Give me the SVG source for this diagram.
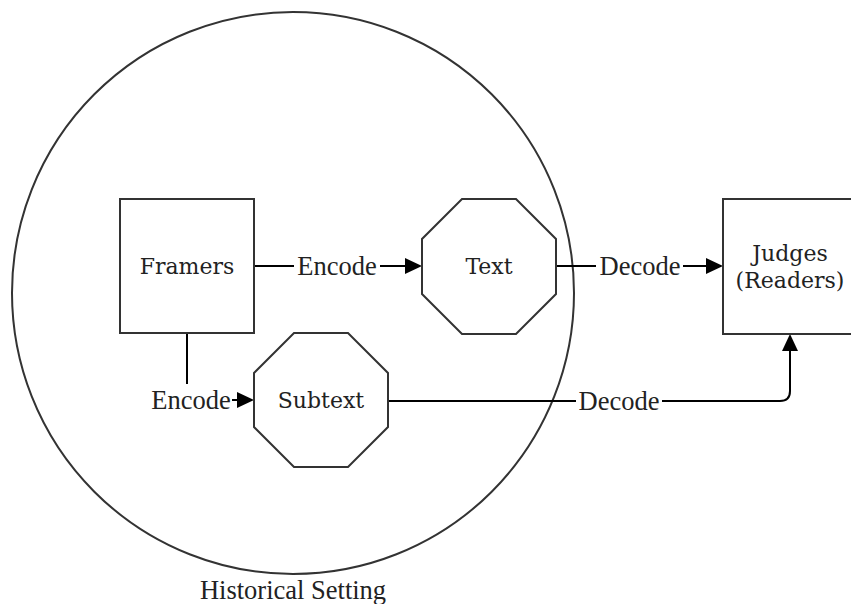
<svg xmlns="http://www.w3.org/2000/svg" width="851" height="604" viewBox="0 0 851 604">
<style>
.edge{fill:none;stroke:#000;stroke-width:2}
.lbl{font-family:"Liberation Serif","Times New Roman",serif;font-size:26.5px;fill:#222;text-anchor:middle;dominant-baseline:central}
.bg{fill:#fff}
</style>
<defs>
<marker id="arr" markerUnits="userSpaceOnUse" viewBox="0 0 17 16" refX="0" refY="8" markerWidth="17" markerHeight="16" orient="auto">
<path d="M0,0 L17,8 L0,16 z" fill="#000"/>
</marker>
</defs>
<rect width="851" height="604" fill="#fff"/>
<g id="setting">
<circle cx="293" cy="293" r="281" fill="none" stroke="#333" stroke-width="2"/>
<text class="lbl" x="293" y="590">Historical Setting</text>
</g>
<g id="connectors">
<path class="edge" d="M254,266 H405" marker-end="url(#arr)"/>
<rect class="bg" x="294" y="252" width="86" height="28"/>
<text class="lbl" x="337" y="266">Encode</text>
<path class="edge" d="M556,266 H706" marker-end="url(#arr)"/>
<rect class="bg" x="596" y="252" width="87" height="28"/>
<text class="lbl" x="640" y="266">Decode</text>
<path class="edge" d="M187,333 V400 H237" marker-end="url(#arr)"/>
<rect class="bg" x="150" y="384" width="82" height="30"/>
<text class="lbl" x="191" y="400">Encode</text>
<path class="edge" d="M388,401 H780 Q790,401 790,391 V351" marker-end="url(#arr)"/>
<rect class="bg" x="576" y="387" width="86" height="28"/>
<text class="lbl" x="619" y="401">Decode</text>
</g>
<g id="framers">
<rect fill="#fff" stroke="#333" stroke-width="2" x="120" y="199" width="134" height="134"/>
<text class="lbl" x="187" y="266" style="font-family:'DejaVu Serif',serif;font-size:22px">Framers</text>
</g>
<g id="text-node">
<polygon fill="#fff" stroke="#333" stroke-width="2" points="462,199 516,199 556,239 556,294 516,334 462,334 422,294 422,239"/>
<text class="lbl" x="489" y="266" style="font-family:'DejaVu Serif',serif;font-size:22px">Text</text>
</g>
<g id="subtext">
<polygon fill="#fff" stroke="#333" stroke-width="2" points="294,333 348,333 388,373 388,427 348,467 294,467 254,427 254,373"/>
<text class="lbl" x="321" y="400" style="font-family:'DejaVu Serif',serif;font-size:22px">Subtext</text>
</g>
<g id="judges">
<rect fill="#fff" stroke="#333" stroke-width="2" x="723" y="199" width="134" height="135"/>
<text class="lbl" x="790" y="253" style="font-family:'DejaVu Serif',serif;font-size:22px">Judges</text>
<text class="lbl" x="790" y="280" style="font-family:'DejaVu Serif',serif;font-size:22px">(Readers)</text>
</g>
</svg>
